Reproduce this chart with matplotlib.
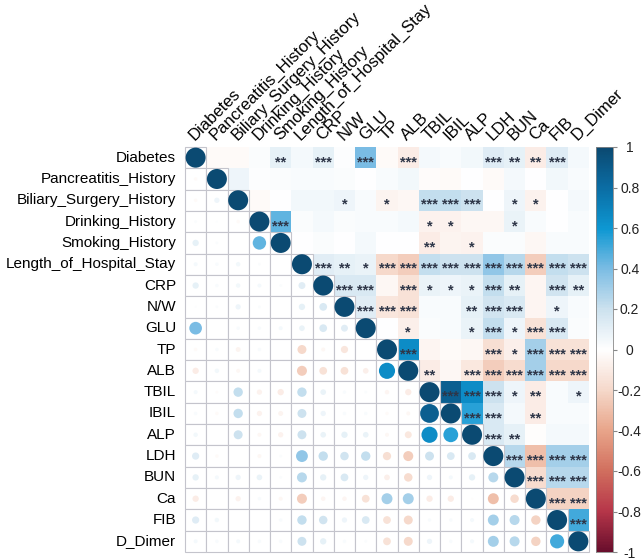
import numpy as np
import matplotlib
matplotlib.use("Agg")
import matplotlib.pyplot as plt
from matplotlib.colors import LinearSegmentedColormap, Normalize
from matplotlib.patches import Rectangle, Circle

plt.rcParams['font.family'] = ['Liberation Sans', 'DejaVu Sans']

labels = ['Diabetes', 'Pancreatitis_History', 'Biliary_Surgery_History',
          'Drinking_History', 'Smoking_History', 'Length_of_Hospital_Stay',
          'CRP', 'N/W', 'GLU', 'TP', 'ALB', 'TBIL', 'IBIL', 'ALP', 'LDH',
          'BUN', 'Ca', 'FIB', 'D_Dimer']

# upper-triangle correlations: row i holds columns i+1 .. 18
r_diabetes = [-0.03, -0.03, 0.02, 0.10, 0.04, 0.10, 0.01, 0.40, -0.03, -0.10, 0.04, 0.03, 0.05, 0.13, 0.10, -0.10, 0.13, 0.04]
r_pancreatitis = [0.07, 0.01, 0.02, 0.03, 0.03, 0.02, 0.00, 0.03, 0.05, -0.02, -0.03, 0.00, -0.03, 0.04, 0.00, 0.05, 0.03]
r_biliary = [-0.03, 0.00, 0.05, 0.05, 0.07, 0.03, -0.06, -0.04, 0.22, 0.22, 0.20, 0.00, 0.07, -0.07, 0.00, 0.04]
r_drinking = [0.45, 0.02, 0.04, 0.02, 0.03, 0.03, 0.04, -0.07, -0.07, -0.04, -0.04, 0.08, 0.03, 0.00, 0.03]
r_smoking = [0.00, 0.02, 0.00, 0.04, 0.00, 0.00, -0.10, -0.06, -0.07, 0.02, 0.02, -0.04, 0.03, 0.03]
r_los = [0.12, 0.10, 0.08, -0.20, -0.25, 0.22, 0.20, 0.20, 0.35, 0.25, -0.25, 0.22, 0.20]
r_crp = [0.15, 0.15, -0.04, -0.15, 0.08, 0.07, 0.08, 0.22, 0.10, -0.05, 0.18, 0.10]
r_nw = [0.12, -0.13, -0.15, 0.03, 0.03, 0.10, 0.18, 0.15, -0.05, 0.07, 0.03]
r_glu = [0.00, -0.08, 0.02, 0.03, 0.08, 0.22, 0.07, -0.15, 0.15, 0.02]
r_tp = [0.65, -0.05, -0.03, -0.04, -0.17, -0.08, 0.30, -0.15, -0.15]
r_alb = [-0.10, -0.04, -0.12, -0.25, -0.18, 0.30, -0.20, -0.20]
r_tbil = [0.88, 0.65, 0.20, 0.07, -0.10, 0.03, 0.07]
r_ibil = [0.55, 0.15, 0.04, -0.10, 0.03, 0.03]
r_alp = [0.15, 0.10, -0.01, 0.04, 0.04]
r_ldh = [0.25, -0.30, 0.30, 0.30]
r_bun = [-0.18, 0.25, 0.25]
r_ca = [-0.22, -0.22]
r_fib = [0.50]

# significance marks for the same upper-triangle cells
s_diabetes = ['', '', '', '**', '', '***', '', '***', '', '***', '', '', '', '***', '**', '**', '***', '']
s_pancreatitis = [''] * 17
s_biliary = ['', '', '', '', '*', '', '*', '', '***', '***', '***', '', '*', '*', '', '']
s_drinking = ['***', '', '', '', '', '', '', '*', '*', '', '', '*', '', '', '']
s_smoking = ['', '', '', '', '', '', '**', '', '*', '', '', '', '', '']
s_los = ['***', '**', '*', '***', '***', '***', '***', '***', '***', '***', '***', '***', '***']
s_crp = ['***', '***', '', '***', '*', '*', '*', '***', '**', '', '***', '**']
s_nw = ['***', '***', '***', '', '', '**', '***', '***', '', '*', '']
s_glu = ['', '*', '', '', '*', '***', '*', '***', '***', '']
s_tp = ['***', '', '', '', '***', '*', '***', '***', '***']
s_alb = ['**', '', '***', '***', '***', '***', '***', '***']
s_tbil = ['***', '***', '***', '*', '**', '', '*']
s_ibil = ['***', '***', '', '**', '', '']
s_alp = ['***', '**', '', '', '']
s_ldh = ['***', '***', '***', '***']
s_bun = ['***', '***', '***']
s_ca = ['***', '***']
s_fib = ['***']

upper_r = [r_diabetes, r_pancreatitis, r_biliary, r_drinking, r_smoking, r_los,
           r_crp, r_nw, r_glu, r_tp, r_alb, r_tbil, r_ibil, r_alp, r_ldh,
           r_bun, r_ca, r_fib]
upper_s = [s_diabetes, s_pancreatitis, s_biliary, s_drinking, s_smoking, s_los,
           s_crp, s_nw, s_glu, s_tp, s_alb, s_tbil, s_ibil, s_alp, s_ldh,
           s_bun, s_ca, s_fib]

cbar_ticks = [1, 0.8, 0.6, 0.4, 0.2, 0, -0.2, -0.4, -0.6, -0.8, -1]

n = len(labels)
M = np.eye(n)
S = [['' for _ in range(n)] for _ in range(n)]
for i, (row, srow) in enumerate(zip(upper_r, upper_s)):
    for k, (v, s) in enumerate(zip(row, srow)):
        j = i + 1 + k
        M[i, j] = M[j, i] = v
        S[i][j] = s

nodes = [(-1.0, '#6A0F2D'), (-0.8, '#B7374A'), (-0.6, '#D2705F'),
         (-0.4, '#E9A68B'), (-0.2, '#F6D9CB'), (0.0, '#FFFFFF'),
         (0.2, '#CDE2EF'), (0.4, '#7CBDE4'), (0.6, '#0E98D3'),
         (0.8, '#0B6EA5'), (1.0, '#0B4A72')]
cmap = LinearSegmentedColormap.from_list(
    'corr', [((v + 1) / 2, c) for v, c in nodes])
norm = Normalize(-1, 1)

W, H = 642, 558
fig = plt.figure(figsize=(W / 100, H / 100), dpi=100)
gl, gr, gt, gb = 185, 589, 147, 552
ax = fig.add_axes([gl / W, 1 - gb / H, (gr - gl) / W, (gb - gt) / H])
ax.set_xlim(0, n)
ax.set_ylim(n, 0)
ax.axis('off')

gridcol = '#C4C4CC'
for i in range(n):
    for j in range(n):
        r = M[i, j]
        if j > i:
            ax.add_patch(Rectangle((j, i), 1, 1, facecolor=cmap(norm(r)),
                                   edgecolor='none', zorder=1))
            if S[i][j]:
                ax.text(j + 0.5, i + 0.5 + 0.40, S[i][j], ha='center',
                        va='baseline', fontsize=10.5, fontweight='bold',
                        color='#2E3648', zorder=4)
        else:
            ax.add_patch(Rectangle((j, i), 1, 1, facecolor='white',
                                   edgecolor=gridcol, lw=0.8, zorder=2,
                                   clip_on=False))
            ax.add_patch(Circle((j + 0.5, i + 0.5), 0.47 * np.sqrt(abs(r)),
                                facecolor=cmap(norm(r)), edgecolor='none',
                                zorder=3))

for i, lab in enumerate(labels):
    ax.text(-0.42, i + 0.5, lab, ha='right', va='center', fontsize=11,
            color='black')
    ax.text(i + 0.45, -0.3, lab, ha='left', va='baseline', rotation=45,
            rotation_mode='anchor', fontsize=12, color='black')

# colour bar
cl, cr = 596, 613
cax = fig.add_axes([cl / W, 1 - gb / H, (cr - cl) / W, (gb - gt) / H])
grad = np.linspace(-1, 1, 400).reshape(-1, 1)
cax.imshow(grad, aspect='auto', cmap=cmap, norm=norm, origin='lower',
           extent=[0, 1, -1, 1])
cax.set_xlim(0, 1)
cax.set_ylim(-1, 1)
cax.set_xticks([])
cax.yaxis.tick_right()
cax.set_yticks(cbar_ticks)
cax.set_yticklabels([('%g' % t) for t in cbar_ticks])
cax.tick_params(axis='y', length=3, width=0.8, color='#888888', pad=9,
                labelsize=10, labelcolor='#222222')
for lab in cax.get_yticklabels():
    lab.set_horizontalalignment('center')
for sp in cax.spines.values():
    sp.set_color('#888888')
    sp.set_linewidth(0.6)

fig.savefig('out.png', dpi=100)
